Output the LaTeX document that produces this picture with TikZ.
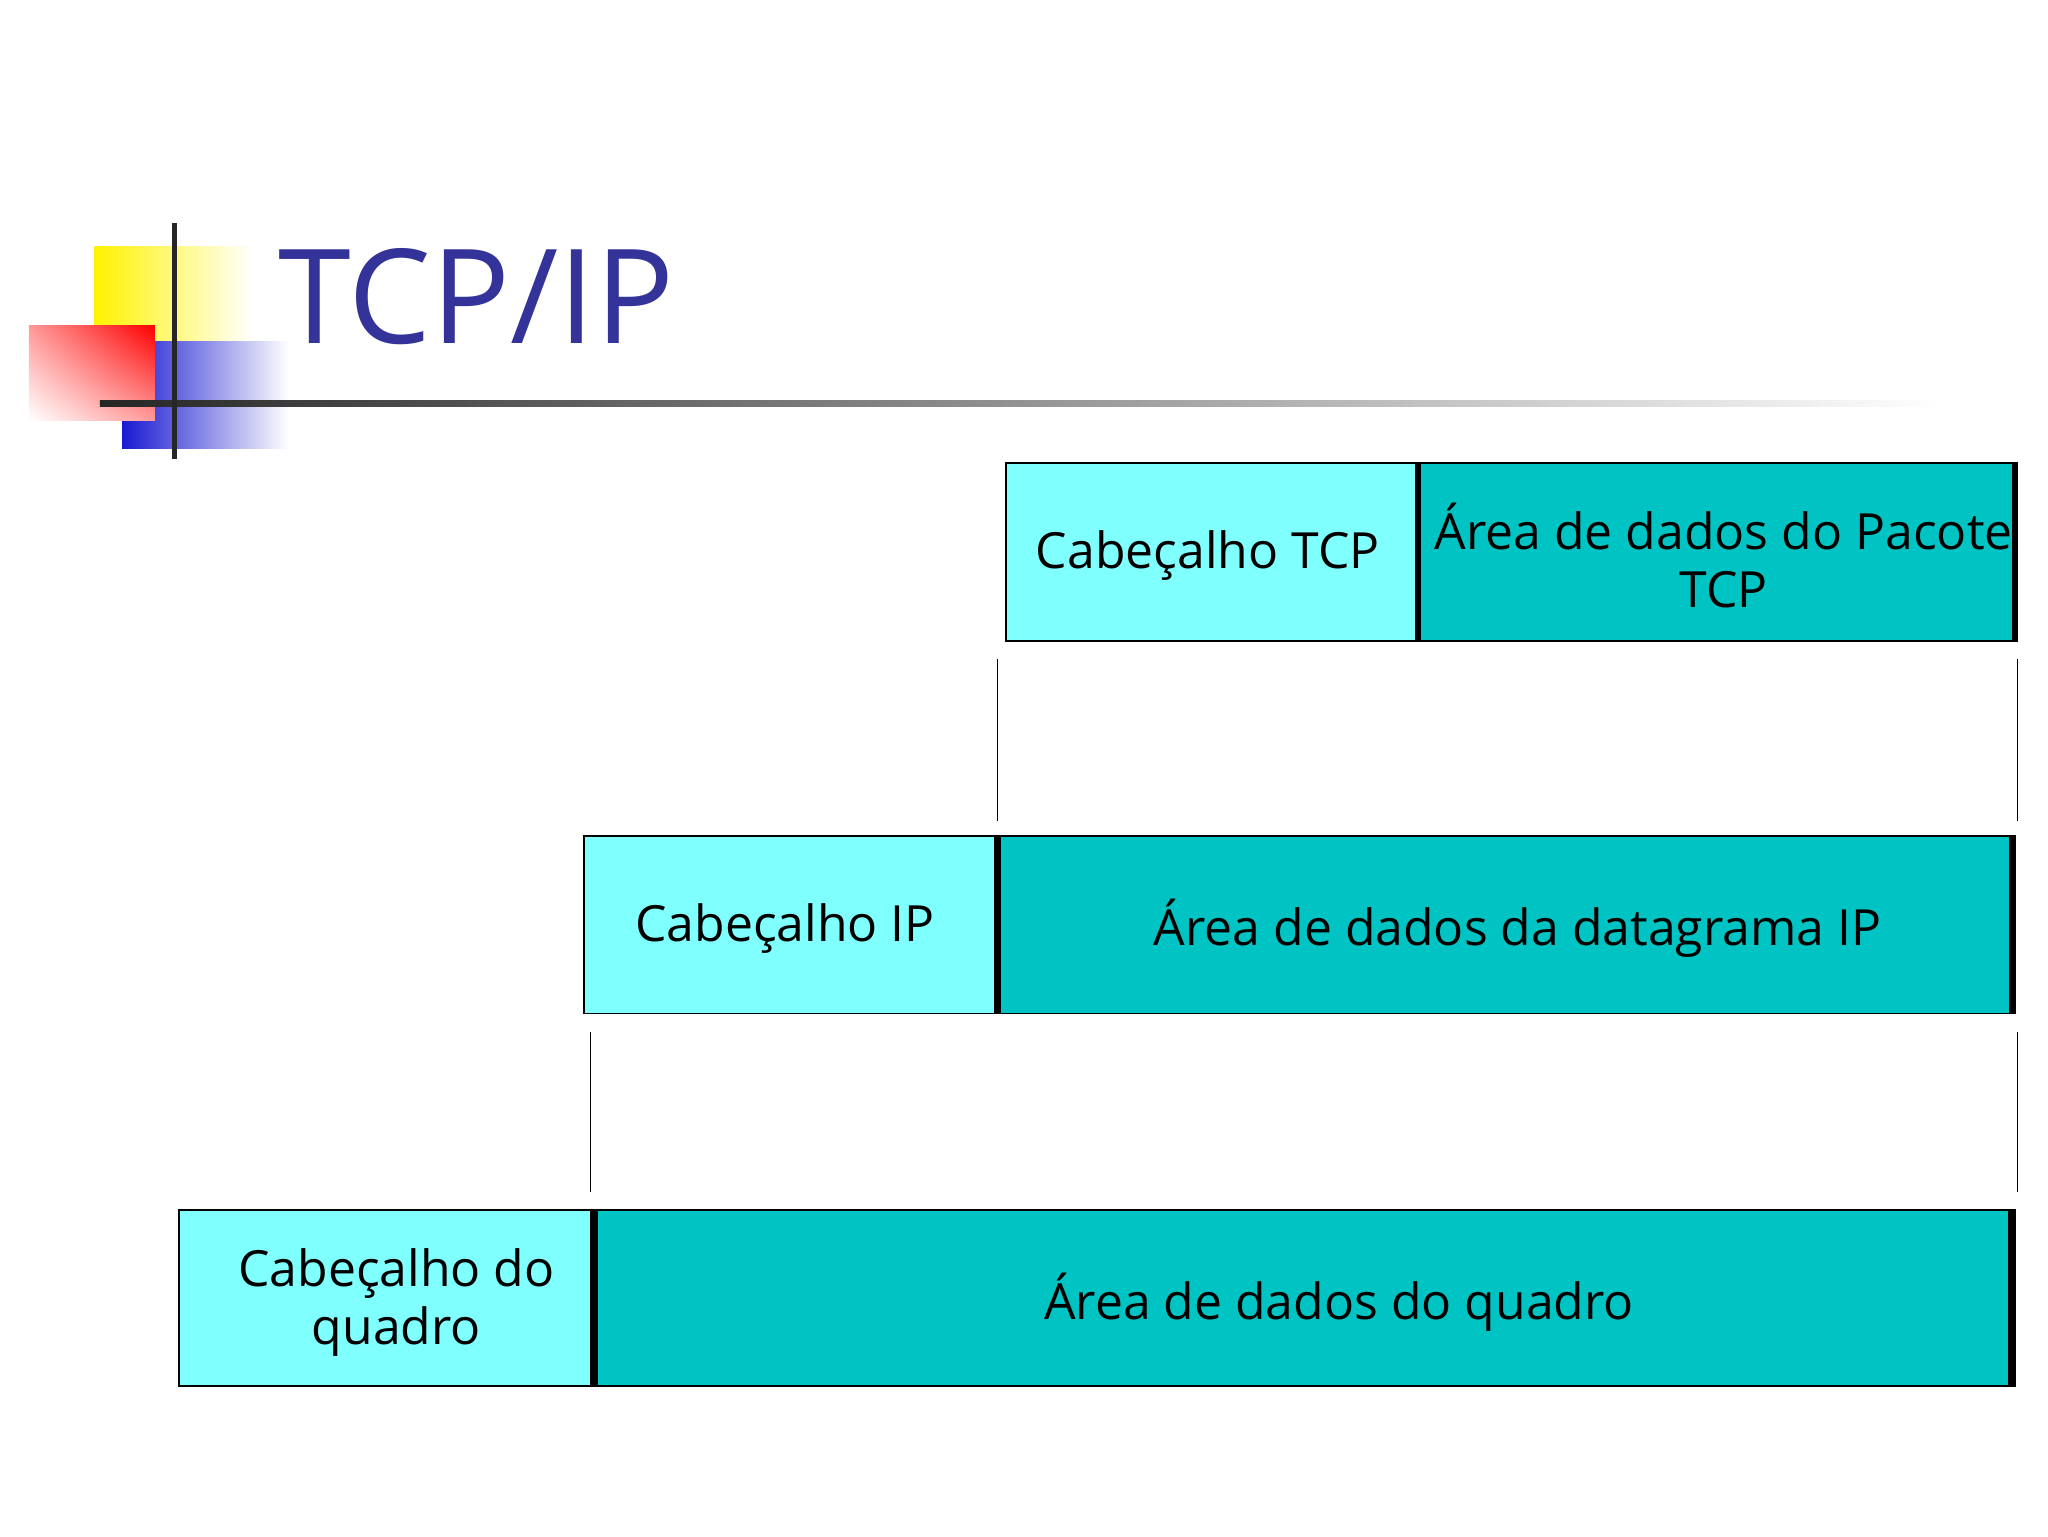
\documentclass[tikz,border=0pt]{standalone}
\usepackage{fontspec}
\usetikzlibrary{shadings}
\setmainfont{Open Sans}
\begin{document}
\begin{tikzpicture}[x=1pt,y=-1pt,
  hdr/.style={fill=lightc,draw=black,line width=1.5pt},
  dat/.style={fill=darkc,draw=black,line width=1.5pt},
  sep/.style={line width=5pt},
  con/.style={line width=1pt},
  lbl/.style={font=\fontsize{38}{44}\selectfont,align=center}]
\definecolor{lightc}{HTML}{80FFFF}
\definecolor{darkc}{HTML}{00C4C4}
\definecolor{titlec}{HTML}{333399}
\useasboundingbox (0,0) rectangle (1560,1170);
% logo
\shade[left color=yellow!90!orange,right color=white] (72,188) rectangle (193,308);
\shade[left color=blue!80!black!90,right color=white] (93,260) rectangle (220,342);
\shade[upper right=red,lower left=white,upper left=red!40,lower right=red!40] (22,248) rectangle (118,320);
\shade[left color=black!85,right color=white] (76,305) rectangle (1480,310);
\draw[line width=3.5pt,black!85] (133,170) -- (133,350);
\node[anchor=base west,text=titlec,font=\fontsize{100}{110}\selectfont,inner sep=0] (title) at (212,262) {TCP/IP};
% row1
\draw[hdr] (766,353) rectangle (1080,488);
\draw[dat] (1080,353) rectangle (1536,488);
\draw[sep] (1080,353) -- (1080,488);
\draw[sep] (1535,353) -- (1535,488);
\node[lbl] (tcph) at (920,423) {Cabeçalho TCP};
\node[lbl] (tcpd) at (1313,423) {Área de dados do Pacote\\TCP};
% row2
\draw[hdr] (445,637) rectangle (760,772);
\draw[dat] (760,637) rectangle (1535,772);
\draw[sep] (760,637) -- (760,772);
\draw[sep] (1533,637) -- (1533,772);
\node[lbl] (iph) at (598,707) {Cabeçalho IP};
\node[lbl] (ipd) at (1156,707) {Área de dados da datagrama IP};
% row3
\draw[hdr] (136,922) rectangle (450,1056);
\draw[dat] (450,922) rectangle (1535,1056);
\draw[sep] (453,922) -- (453,1056);
\draw[sep] (1532,922) -- (1532,1056);
\node[lbl] (frh) at (302,992) {Cabeçalho do\\quadro};
\node[lbl] (frd) at (1020,992) {Área de dados do quadro};
% connectors
\coordinate (a1) at (760,502); \coordinate (a2) at (760,625);
\coordinate (b1) at (1537,502); \coordinate (b2) at (1537,625);
\coordinate (c1) at (450,786); \coordinate (c2) at (450,908);
\coordinate (d1) at (1537,786); \coordinate (d2) at (1537,908);
\draw[con] (a1) -- (a2); \draw[con] (b1) -- (b2);
\draw[con] (c1) -- (c2); \draw[con] (d1) -- (d2);
\end{tikzpicture}
\end{document}
